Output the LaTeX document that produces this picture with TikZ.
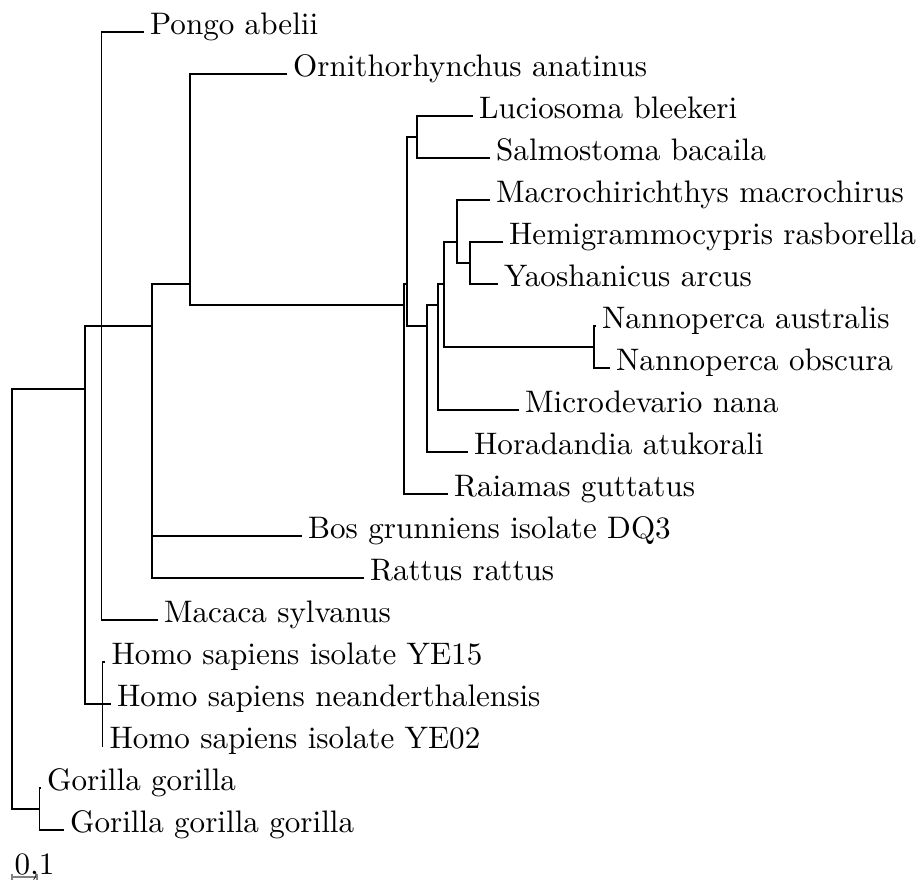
\documentclass[tikz,border=0pt]{standalone}
\begin{document}
\begin{tikzpicture}[x=0.3215pt,y=-0.3215pt,
  br/.style={line width=0.4pt,line cap=rect},
  leaf/.style={anchor=base west,inner sep=0pt,xshift=2.1pt,yshift=-0.9pt}]
\useasboundingbox (0,0) rectangle (921,884);
% internal nodes
\coordinate (R) at (12,431);
\coordinate (A) at (85,389);
\coordinate (G) at (39.3,809);
\coordinate (P) at (101.5,326);
\coordinate (H) at (102.5,704);
\coordinate (B) at (152,326);
\coordinate (C) at (190,284);
\coordinate (F) at (404,305);
\coordinate (E) at (407,284);
\coordinate (LS) at (417,137);
\coordinate (D) at (427,326);
\coordinate (M) at (438,305);
\coordinate (N) at (444,284);
\coordinate (Q) at (457,242);
\coordinate (HY) at (470,263);
\coordinate (NN) at (594,347);
% leaf tips
\coordinate (tPongo) at (143,32);
\coordinate (tOrni) at (286,74);
\coordinate (tLuci) at (472,116);
\coordinate (tSalm) at (489,158);
\coordinate (tMacr) at (489,200);
\coordinate (tHemi) at (502,242);
\coordinate (tYaos) at (497,284);
\coordinate (tNanA) at (595,326);
\coordinate (tNanO) at (609,368);
\coordinate (tMicr) at (518,410);
\coordinate (tHora) at (467,452);
\coordinate (tRaia) at (447,494);
\coordinate (tBos) at (301,536);
\coordinate (tRatt) at (363,578);
\coordinate (tMaca) at (157,620);
\coordinate (tYEa) at (104.5,662);
\coordinate (tNean) at (110,704);
\coordinate (tYEb) at (102.5,746);
\coordinate (tGor) at (40,788);
\coordinate (tGGG) at (63,830);
% branches
\draw[br] (R) |- (A);
\draw[br] (R) |- (G);
\draw[br] (A) |- (P);
\draw[br] (A) |- (H);
\draw[br] (P) |- (tPongo);
\draw[br] (P) |- (B);
\draw[br] (P) |- (tMaca);
\draw[br] (B) |- (C);
\draw[br] (B) |- (tBos);
\draw[br] (B) |- (tRatt);
\draw[br] (C) |- (tOrni);
\draw[br] (C) |- (F);
\draw[br] (F) |- (E);
\draw[br] (F) |- (tRaia);
\draw[br] (E) |- (LS);
\draw[br] (E) |- (D);
\draw[br] (LS) |- (tLuci);
\draw[br] (LS) |- (tSalm);
\draw[br] (D) |- (M);
\draw[br] (D) |- (tHora);
\draw[br] (M) |- (N);
\draw[br] (M) |- (tMicr);
\draw[br] (N) |- (Q);
\draw[br] (N) |- (NN);
\draw[br] (Q) |- (tMacr);
\draw[br] (Q) |- (HY);
\draw[br] (HY) |- (tHemi);
\draw[br] (HY) |- (tYaos);
\draw[br] (NN) |- (tNanA);
\draw[br] (NN) |- (tNanO);
\draw[br] (H) |- (tYEa);
\draw[br] (H) |- (tNean);
\draw[br] (H) |- (tYEb);
\draw[br] (G) |- (tGor);
\draw[br] (G) |- (tGGG);
% labels
\node[leaf] (lPongo) at (tPongo) {Pongo abelii};
\node[leaf] (lOrni) at (tOrni) {Ornithorhynchus anatinus};
\node[leaf] (lLuci) at (tLuci) {Luciosoma bleekeri};
\node[leaf] (lSalm) at (tSalm) {Salmostoma bacaila};
\node[leaf] (lMacr) at (tMacr) {Macrochirichthys macrochirus};
\node[leaf] (lHemi) at (tHemi) {Hemigrammocypris rasborella};
\node[leaf] (lYaos) at (tYaos) {Yaoshanicus arcus};
\node[leaf] (lNanA) at (tNanA) {Nannoperca australis};
\node[leaf] (lNanO) at (tNanO) {Nannoperca obscura};
\node[leaf] (lMicr) at (tMicr) {Microdevario nana};
\node[leaf] (lHora) at (tHora) {Horadandia atukorali};
\node[leaf] (lRaia) at (tRaia) {Raiamas guttatus};
\node[leaf] (lBos) at (tBos) {Bos grunniens isolate DQ3};
\node[leaf] (lRatt) at (tRatt) {Rattus rattus};
\node[leaf] (lMaca) at (tMaca) {Macaca sylvanus};
\node[leaf] (lYEa) at (tYEa) {Homo sapiens isolate YE15};
\node[leaf] (lNean) at (tNean) {Homo sapiens neanderthalensis};
\node[leaf] (lYEb) at (tYEb) {Homo sapiens isolate YE02};
\node[leaf] (lGor) at (tGor) {Gorilla gorilla};
\node[leaf] (lGGG) at (tGGG) {Gorilla gorilla gorilla};
% scale bar
\coordinate (sb1) at (12,877);
\coordinate (sb2) at (37,877);
\draw[gray,line width=0.4pt] (sb1) -- (sb2);
\draw[gray,line width=0.4pt] ([yshift=1pt]sb1) -- ([yshift=-1pt]sb1);
\draw[gray,line width=0.4pt] ([yshift=1pt]sb2) -- ([yshift=-1pt]sb2);
\node[anchor=base west,inner sep=0pt] (sblabel) at (14,874) {0,1};
\end{tikzpicture}
\end{document}
